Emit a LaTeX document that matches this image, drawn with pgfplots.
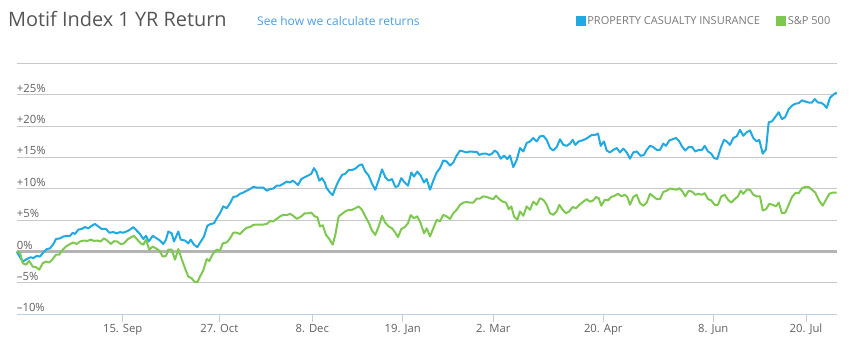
\documentclass[border=0pt]{standalone}
\usepackage{fontspec}
\setmainfont{Open Sans}
\usepackage{pgfplots}
\pgfplotsset{compat=1.18}
\definecolor{pcblue}{RGB}{33,169,225}
\definecolor{spgreen}{RGB}{126,200,80}
\definecolor{gridgray}{RGB}{200,200,200}
\definecolor{zerogray}{RGB}{180,180,180}
\definecolor{axisblue}{RGB}{192,208,224}
\definecolor{labelgray}{RGB}{96,96,96}
\definecolor{titlegray}{RGB}{85,85,85}
\definecolor{linkblue}{RGB}{74,157,224}
\definecolor{leggray}{RGB}{120,120,120}
\begin{document}
\begin{tikzpicture}
\path[use as bounding box] (0,0) rectangle (857bp,352bp);
\node[anchor=base west, inner sep=0pt, text=titlegray, font=\fontsize{19.9bp}{24bp}\selectfont] at (8bp,325.3bp) {Motif Index 1 YR Return};
\node[anchor=base west, inner sep=0pt, text=linkblue, font=\fontsize{12bp}{14bp}\selectfont] at (257bp,326bp) {See how we calculate returns};
\begin{axis}[
  at={(16.7bp,37.7bp)}, anchor=south west,
  width=820bp, height=251bp, scale only axis,
  xmin=16.7, xmax=836.7, ymin=-10, ymax=30,
  axis x line*=bottom, axis y line*=left,
  x axis line style={draw=axisblue, line width=1bp, -},
  y axis line style={draw=none},
  xtick={122.7,219.3,312.3,402.7,493.3,603.3,713.3,806},
  xticklabels={15. Sep, 27. Oct, 8. Dec, 19. Jan, 2. Mar, 20. Apr, 8. Jun, 20. Jul},
  xtick align=outside, major tick length=8bp,
  xtick style={draw=axisblue, line width=1bp},
  ytick={-10,-5,0,5,10,15,20,25,30},
  yticklabels={--10\%, --5\%, 0\%, +5\%, +10\%, +15\%, +20\%, +25\%, {}},
  ytick style={draw=none},
  ymajorgrids, grid style={gridgray, line width=1bp},
  extra y ticks={0}, extra y tick labels={},
  extra y tick style={grid style={zerogray, line width=2.2bp}},
  yticklabel style={anchor=base west, inner sep=0pt, xshift=0bp, yshift=2.5bp, text=labelgray, font=\fontsize{11.3bp}{13bp}\selectfont},
  xticklabel style={anchor=base, inner sep=0pt, yshift=-10bp, text=labelgray, font=\fontsize{11.3bp}{13bp}\selectfont},
  legend columns=2,
  legend style={at={(0.9943,1.1685)}, anchor=east, draw=none, fill=none, inner sep=0pt,
    font=\fontsize{11bp}{12bp}\selectfont, text=leggray,
    nodes={inner sep=1.5bp},
    /tikz/every even column/.append style={column sep=15bp}},
  legend image code/.code={\path[#1, draw=none, fill] (0bp,-5bp) rectangle (10bp,5bp);},
  clip=false,
]
\addplot[pcblue, line width=2bp, line join=round] coordinates {
(16.7,0) (22.7,-1.6) (26.7,-1.2) (30.7,-0.9) (33.3,-1.05) (36.7,-0.7) (40,-0.8) (43.3,-0.15) (46.7,0.4) (50,0.5)
(53.3,1.2) (56,2.0) (60,2.1) (63.3,2.4) (66.7,2.5) (70,2.5) (72.7,3.0) (75,2.8) (78.3,3.5) (81.7,3.6)
(85,3.9) (88.3,3.7) (91.7,4.1) (95,4.4) (98.3,4.0) (101.7,3.6) (106,3.6) (109.3,3.0) (113.3,3.1) (116.7,2.9)
(120,3.1) (123.3,3.0) (127.3,3.25) (130,3.5) (133.3,3.9) (136.7,3.35) (140,2.8) (143.3,2.0) (146,2.5) (148.7,1.6)
(152.7,2.5) (156.7,2.1) (160,1.75) (163.3,1.2) (166,1.9) (168.3,3.2) (171.7,2.9) (174,1.6) (178.3,3.2) (180.7,1.9)
(185,1.75) (188.3,1.3) (190.7,1.9) (194,1.1) (197.3,0.7) (200,1.4) (204,2.4) (207.3,4.1) (210.7,4.4) (214,4.5)
(216.7,5.3) (220,6.1) (223.3,7.2) (226.7,6.9) (230,7.7) (233.3,8.7) (236.7,8.8) (240,9.2) (243.3,9.4) (246.7,9.7)
(250,9.95) (253.3,10.3) (256.7,10.2) (260,10.2) (263.3,10.2) (266.7,9.7) (270,9.95) (273.3,10.05) (276.7,10.5) (280,10.5)
(283.3,10.8) (286.7,11.15) (290,11.0) (292.7,11.3) (295.3,11.0) (298,10.6) (301.3,11.55) (304.7,11.85) (308,12.1) (311.3,12.4)
(314,13.3) (316.7,12.6) (319.3,11.3) (322,11.7) (324.7,11.0) (326.7,10.1) (330,9.4) (332.7,9.0) (335.3,10.1) (338.7,11.3)
(342,12.2) (345.3,12.4) (348.7,13.0) (352,13.0) (355.3,13.2) (358.7,13.7) (362,13.9) (365.3,12.75) (368.7,12.1) (372,10.8)
(375.3,9.85) (378.7,11.4) (382,13.1) (385.3,11.85) (388.7,11.3) (392,11.55) (395.3,10.3) (398,10.4) (401.3,11.7) (404.7,11.0)
(408,10.5) (411.3,12.6) (414,11.95) (417.3,12.75) (420.7,12.1) (424,11.0) (426.7,11.55) (430,9.85) (433.3,11.3) (436.7,12.6)
(440,13.3) (443.3,14.5) (446.7,14.35) (450,13.7) (453.3,14.2) (456.7,15.3) (460,16.1) (463.3,15.95) (466.7,15.8) (470,15.95)
(473.3,15.9) (476.7,15.9) (479.3,15.4) (482.7,15.6) (486,15.6) (489.3,15.4) (492,15.6) (494.7,16.1) (497.3,15.8) (500.7,14.8)
(504,15.3) (507.3,14.75) (510,15.3) (513.3,13.45) (516.7,14.6) (520,16.5) (523.3,15.95) (526.7,17.3) (530,17.55) (533.3,18.1)
(536.7,17.55) (540,18.35) (543.3,18.45) (546.7,17.8) (550,16.5) (553.3,16.1) (556.7,16.65) (560,17.9) (563.3,17.0) (566.7,16.85)
(570,17.2) (572.7,17.8) (575.3,17.0) (578.7,17.55) (582,17.7) (585.3,17.9) (588.7,18.25) (592,18.6) (595.3,18.6) (598,18.8)
(600.7,16.85) (604,17.55) (606.7,16.1) (610,15.8) (613.3,16.2) (616.7,16.5) (620,15.8) (623.3,16.4) (626.7,15.8) (630,14.8)
(633.3,15.8) (636.7,15.95) (640.7,15.25) (644,15.4) (646.7,16.2) (650,16.85) (653.3,16.65) (656.7,16.2) (660,16.2) (663.3,17.2)
(666,16.85) (669.3,17.7) (672.7,17.9) (676,18.1) (679.3,17.55) (682,16.75) (685.3,16.1) (688.7,16.65) (692,16.65) (695.3,15.95)
(698.7,16.2) (702,16.2) (704.7,16.85) (708,15.95) (711.3,15.6) (714,14.9) (717.3,14.75) (720.7,16.5) (724,17.8) (726.7,17.55)
(730,17.0) (733.3,18.1) (736.7,18.35) (740,19.4) (743.3,18.45) (746.7,19.0) (750,19.3) (753.3,18.1) (756.7,17.55) (759.3,17.8)
(762.7,15.6) (766,16.3) (768.7,20.6) (772,20.75) (775.3,21.45) (778.7,22.2) (782,21.1) (785.3,21.45) (788.7,22.7) (792,23.25)
(795.3,23.55) (798.7,23.65) (802,24.1) (805.3,23.9) (808.7,23.75) (812,23.75) (814.7,24.3) (818,23.75) (820.7,23.75) (824,23.4)
(826.7,22.9) (830,24.5) (833.3,25.0) (836.7,25.35)
};
\addlegendentry{PROPERTY CASUALTY INSURANCE}
\addplot[spgreen, line width=2bp, line join=round] coordinates {
(16.7,0) (20,-0.15) (22.7,-1.85) (26,-2.1) (29.3,-1.5) (32.7,-2.4) (36,-2.5) (39.3,-2.9) (42.7,-1.85) (46,-1.6)
(49.3,-1.75) (52.7,-1.2) (56,-0.5) (59.3,-0.5) (62.7,0.3) (66,0.8) (70,1.2) (73.3,1.45) (76.7,1.2) (80,1.6)
(83.3,1.75) (87.3,1.7) (90.7,1.9) (94,1.7) (97.3,1.75) (100.7,1.6) (104,2.1) (107.3,1.75) (110.7,1.2) (114,1.65)
(117.3,1.6) (120.7,1.2) (124,1.3) (127.3,1.9) (130.7,2.25) (134,2.5) (137.3,1.9) (140.7,1.3) (143.3,1.1) (146,1.9)
(149.3,0.3) (152.7,0.8) (156,0.5) (159.3,0.15) (162.7,-0.8) (166,-0.7) (168.3,0.3) (171.7,0.3) (175,-1.3) (178.3,0.4)
(181.7,-1.2) (185,-2.65) (188.3,-4.0) (191.7,-4.25) (194.3,-4.8) (197.3,-4.9) (200,-4.0) (203.3,-3.0) (206.7,-1.2) (209.3,-1.5)
(213.3,-0.25) (216.7,0.3) (220,0.15) (222.7,1.3) (226.7,1.45) (230,2.1) (233.3,3.0) (236.7,3.0) (240,2.8) (243.3,3.35)
(246.7,3.8) (250,3.9) (253.3,4.25) (256.7,4.3) (260,4.3) (263.3,4.3) (266.7,4.4) (270,4.85) (273.3,4.8) (276.7,5.2)
(280,5.6) (283.3,5.85) (286.7,5.8) (290,6.0) (293.3,5.7) (296.7,5.2) (301.3,5.6) (304.7,6.1) (308,6.1) (311.3,6.2)
(314.7,5.6) (317.3,5.5) (320,4.0) (322.7,4.2) (326,2.65) (329.3,2.0) (332.7,1.1) (335.3,2.65) (338.7,5.6) (342,6.0)
(345.3,6.4) (348.7,6.65) (352,6.65) (355.3,6.9) (358.7,7.2) (362,6.65) (365.3,5.6) (368.7,4.6) (372,3.35) (375.3,2.65)
(378.7,4.0) (382,5.7) (385.3,4.6) (388.7,4.0) (392,3.7) (395.3,3.0) (398,2.3) (401.3,3.6) (404.7,3.9) (408,4.5)
(410.7,5.8) (414,5.3) (417.3,5.6) (420.7,4.5) (424,2.9) (426.7,3.7) (430,2.4) (433.3,3.7) (436.7,5.05) (440,4.8)
(443.3,5.85) (446.7,5.6) (450,5.2) (453.3,6.1) (456.7,6.65) (460,7.45) (463.3,7.8) (466.7,7.9) (470,7.8) (473.3,7.8)
(476.7,8.45) (480,8.45) (483.3,8.8) (486.7,8.7) (490,8.5) (493.3,8.35) (496,8.9) (499.3,8.35) (502.7,7.95) (506,7.8)
(508.7,6.75) (511.3,7.2) (514,5.6) (517.3,5.05) (520,6.4) (523.3,5.7) (526.7,7.2) (530,6.65) (533.3,7.95) (536.7,7.45)
(540,8.5) (543.3,8.25) (546.7,7.45) (550,6.1) (553.3,5.85) (556.7,6.4) (559.3,7.45) (562.7,6.65) (566,6.1) (569.3,6.4)
(572.7,7.1) (576,6.9) (579.3,7.45) (583.3,7.95) (586.7,8.35) (590,7.95) (593.3,8.15) (596,8.7) (598.7,8.5) (601.3,7.3)
(604.7,8.25) (608,8.15) (611.3,8.7) (614.7,8.9) (618,9.2) (621.3,8.8) (624.7,9.05) (627.3,8.7) (630,7.45) (633.3,8.7)
(636.7,9.05) (640,7.7) (643.3,7.3) (646.7,7.8) (650,9.2) (653.3,8.8) (656.7,8.35) (660,8.35) (663.3,9.5) (666.7,9.7)
(670,10.05) (673.3,9.95) (676.7,9.85) (679.3,10.1) (682,9.7) (685.3,8.8) (688.7,9.7) (692,9.55) (695.3,9.05) (698.7,9.2)
(702,9.05) (704.7,9.3) (708,8.35) (711.3,8.15) (714.7,7.45) (718,7.45) (721.3,8.8) (724.7,9.05) (728,8.25) (731.3,7.8)
(734.7,8.35) (738,8.8) (740.7,9.7) (743.3,9.2) (746.7,9.85) (750,9.85) (753.3,9.05) (756.7,8.8) (760,8.8) (762.7,6.55)
(766,6.75) (769.3,7.6) (772.7,7.45) (776,7.2) (778.7,7.8) (782,6.1) (785.3,6.2) (788.7,7.45) (792,8.7) (795.3,9.3)
(798.7,9.3) (802,10.1) (805.3,10.3) (808.7,10.3) (812,9.85) (815.3,9.4) (818.7,8.25) (822.7,7.3) (826,8.25) (829.3,9.2)
(832.7,9.4) (836.7,9.4)
};
\addlegendentry{S\&P 500}
\end{axis}
\end{tikzpicture}
\end{document}
